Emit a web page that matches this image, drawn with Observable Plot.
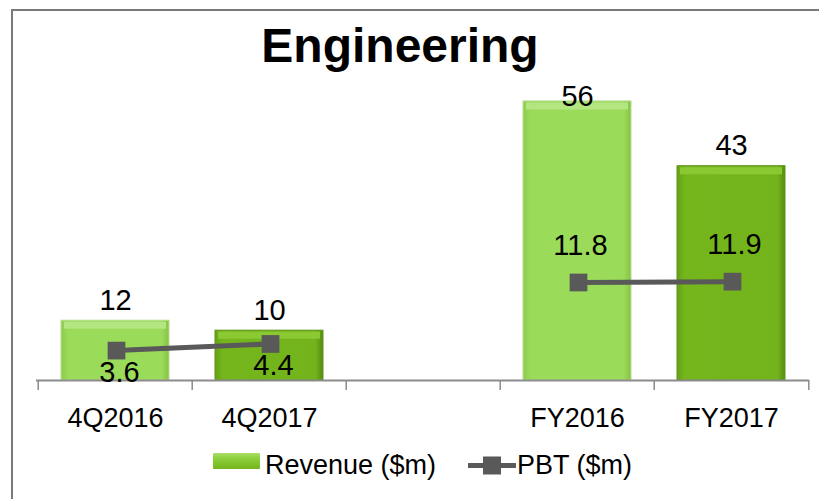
<!DOCTYPE html>
<html>
<head>
<meta charset="utf-8">
<script src="https://cdn.jsdelivr.net/npm/d3@7"></script>
<script src="https://cdn.jsdelivr.net/npm/@observablehq/plot@0.6"></script>
<style>
  html, body { margin: 0; padding: 0; background: #fff; }
  #wrap { position: relative; width: 819px; height: 499px; overflow: hidden; background: #fff;
          font-family: "Liberation Sans", Arial, sans-serif; color: #000; }
  #frame { position: absolute; left: 11px; top: 9px; width: 900px; height: 700px;
           border-left: 2px solid #7a7a7a; border-top: 2px solid #7a7a7a; }
  #title { position: absolute; left: 0; top: 22px; width: 800px; text-align: center;
           font-size: 48px; line-height: 48px; font-weight: bold; }
  #chart { position: absolute; left: 0; top: 0; }
  .lg { position: absolute; font-size: 27px; line-height: 27px; white-space: nowrap; }
</style>
</head>
<body>
<div id="wrap">
  <div id="frame"></div>
  <div id="title">Engineering</div>
  <div id="chart"></div>
  <div id="swatchRev" style="position:absolute;left:213px;top:453px;width:47px;height:16px;
       background:linear-gradient(#a9df6c 0%, #8fd13f 30%, #74b51d 100%);border-radius:1px;"></div>
  <div class="lg" style="left:265px;top:452px;">Revenue ($m)</div>
  <svg style="position:absolute;left:468px;top:456px;" width="48" height="19">
    <line x1="1" y1="9.5" x2="47" y2="9.5" stroke="#595959" stroke-width="5" stroke-linecap="round"/>
    <rect x="15" y="0.5" width="18" height="18" fill="#595959"/>
  </svg>
  <div class="lg" style="left:517px;top:452px;">PBT ($m)</div>
</div>
<script>
// ---- data ----
const slots = ["4Q2016", "4Q2017", " ", "FY2016", "FY2017"];
const periods = ["4Q2016", "4Q2017", "FY2016", "FY2017"];
const groups = ["4Q", "4Q", "FY", "FY"];
const years = ["2016", "2017", "2016", "2017"];
const revenue = [12, 10, 56, 43];
const pbt = [3.6, 4.4, 11.8, 11.9];
const revenueMax = 60;   // primary axis maximum
const pbtMax = 36;       // secondary axis maximum

const data = periods.map((p, i) => ({
  period: p, group: groups[i], year: years[i], revenue: revenue[i], pbt: pbt[i]
}));
const pbtY = d => d.pbt * revenueMax / pbtMax;   // map PBT onto the secondary axis

const W = 819, H = 440, mL = 36, mR = 10, mT = 81, mB = 60;
const step = (W - mL - mR) / slots.length;

const defs = () => {
  const d = d3.create("svg:defs");
  const mk = (id, stops) => {
    const g = d.append("linearGradient").attr("id", id)
      .attr("x1", "0").attr("x2", "1").attr("y1", "0").attr("y2", "0");
    stops.forEach(([o, c]) => g.append("stop").attr("offset", o).attr("stop-color", c));
  };
  mk("gLight", [["0", "#8ccb4c"], ["0.07", "#9bdb5a"], ["0.93", "#9bdb5a"], ["1", "#86c246"]]);
  mk("gDark", [["0", "#64a016"], ["0.07", "#75b61d"], ["0.93", "#73b31b"], ["1", "#578c10"]]);
  return d.node();
};

const light = data.filter(d => d.year === "2016");
const dark = data.filter(d => d.year === "2017");
const fourQ = data.filter(d => d.group === "4Q");
const fy = data.filter(d => d.group === "FY");
const labelCeil = 53;

const chart = Plot.plot({
  width: W, height: H,
  marginLeft: mL, marginRight: mR, marginTop: mT, marginBottom: mB,
  style: { fontFamily: "'Liberation Sans', Arial, sans-serif", color: "#000", background: "transparent", overflow: "visible" },
  x: { type: "band", domain: slots, paddingInner: 0.3, paddingOuter: 0.15, axis: null },
  y: { domain: [0, revenueMax], axis: null },
  marks: [
    defs,
    Plot.barY(light, { x: "period", y: "revenue", fill: "url(#gLight)", stroke: "#b9dc95", strokeWidth: 1 }),
    Plot.barY(dark, { x: "period", y: "revenue", fill: "url(#gDark)", stroke: "#5d9418", strokeWidth: 1 }),
    Plot.tickY(light, { x: "period", y: "revenue", stroke: "#b3e681", strokeWidth: 7, dy: 4.5, inset: 3 }),
    Plot.tickY(dark, { x: "period", y: "revenue", stroke: "#8ac932", strokeWidth: 7, dy: 4.5, inset: 3 }),
    Plot.ruleY([0], { stroke: "#8c8c8c", strokeWidth: 2 }),
    Plot.ruleX(slots, { x: d => d, y1: 0, y2: -2, dx: -step / 2, stroke: "#8c8c8c", strokeWidth: 1.5 }),
    Plot.ruleX(slots.slice(-1), { x: d => d, y1: 0, y2: -2, dx: step / 2, stroke: "#8c8c8c", strokeWidth: 1.5 }),
    Plot.axisX({ tickSize: 0, tickPadding: 27, fontSize: 27, fill: "#000", label: null }),
    Plot.line(data, { x: "period", y: pbtY, z: "group", stroke: "#595959", strokeWidth: 5 }),
    Plot.dot(data, { x: "period", y: pbtY, symbol: "square", r: 10, fill: "#595959", dx: 1 }),
    Plot.text(data, { x: "period", y: d => Math.min(d.revenue, labelCeil), text: d => String(d.revenue),
                      dy: -20, fontSize: 29, fill: "#000" }),
    Plot.text(fourQ, { x: "period", y: pbtY, text: d => d.pbt.toFixed(1), dy: 22, dx: 4, fontSize: 29, fill: "#000" }),
    Plot.text(fy, { x: "period", y: pbtY, text: d => d.pbt.toFixed(1), dy: -37, dx: 3, fontSize: 29, fill: "#000" })
  ]
});
document.getElementById("chart").appendChild(chart);
</script>
</body>
</html>
